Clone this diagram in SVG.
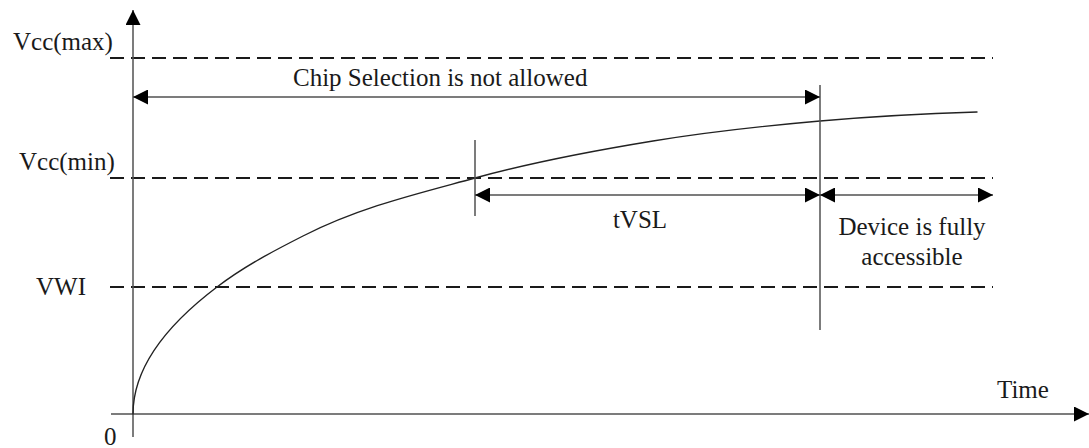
<svg xmlns="http://www.w3.org/2000/svg" width="1089" height="448" viewBox="0 0 1089 448">
  <style>
    .t { font-family: 'Liberation Serif', 'Times New Roman', Times, serif; font-size: 25px; fill: #1a1a1a; }
    .ln { stroke: #505050; stroke-width: 1.5; fill: none; }
    .ar { stroke: #505050; stroke-width: 1.5; fill: none; marker-end: url(#ah); }
    .ar2 { stroke: #505050; stroke-width: 1.5; fill: none; marker-start: url(#ah); marker-end: url(#ah); }
    .dash { stroke: #1a1a1a; stroke-width: 2; stroke-dasharray: 14 7; fill: none; }
    .curve { stroke: #222; stroke-width: 1.4; fill: none; stroke-linecap: round; }
  </style>
  <defs>
    <marker id="ah" viewBox="0 0 15 15" refX="15" refY="7.5" markerWidth="15" markerHeight="15" markerUnits="userSpaceOnUse" orient="auto-start-reverse">
      <path d="M0,0 L15,7.5 L0,15 Z" fill="#000"/>
    </marker>
  </defs>
  <rect width="1089" height="448" fill="#fff"/>

  <g id="levels">
    <line class="dash" x1="110" y1="58" x2="993" y2="58"/>
    <line class="dash" x1="110" y1="178" x2="993" y2="178"/>
    <line class="dash" x1="110" y1="287" x2="993" y2="287"/>
  </g>

  <g id="axes">
    <line class="ar" x1="133" y1="437" x2="133" y2="10"/>
    <line class="ar" x1="111" y1="414" x2="1089" y2="414"/>
  </g>

  <g id="curve">
    <path class="curve" d="M133,414 Q133,350.5 217,287 C245.67,265.3 274.33,250.6 303,236 C360.33,206.9 417.67,193.7 475,178 C534.33,161.7 593.67,150.7 653,141 C708.67,131.9 764.33,125.9 820,121 C872.33,116.4 924.67,113.6 977,112"/>
  </g>

  <g id="markers">
    <line class="ln" x1="475" y1="140" x2="475" y2="216"/>
    <line class="ln" x1="820" y1="85" x2="820" y2="330"/>
  </g>

  <g id="connectors">
    <line class="ar2" x1="133" y1="97" x2="820" y2="97"/>
    <line class="ar2" x1="475" y1="195" x2="820" y2="195"/>
    <line class="ar2" x1="820" y1="195" x2="993" y2="195"/>
  </g>

  <g id="labels">
    <text class="t" x="13" y="50">Vcc(max)</text>
    <text class="t" x="19" y="170">Vcc(min)</text>
    <text class="t" x="36" y="295">VWI</text>
    <text class="t" x="104" y="445">0</text>
    <text class="t" x="997" y="398">Time</text>
    <text class="t" x="293" y="86">Chip Selection is not allowed</text>
    <text class="t" x="640" y="228" text-anchor="middle">tVSL</text>
    <text class="t" x="912" y="235" text-anchor="middle">Device is fully</text>
    <text class="t" x="912" y="265" text-anchor="middle">accessible</text>
  </g>
</svg>
